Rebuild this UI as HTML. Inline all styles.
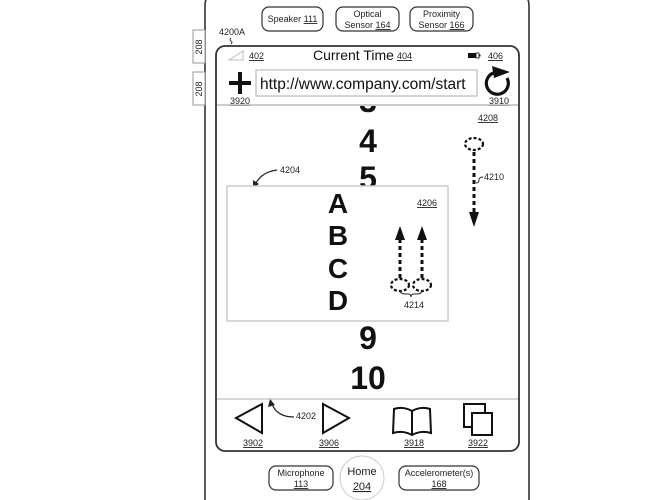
<!DOCTYPE html>
<html><head><meta charset="utf-8"><style>
html,body{margin:0;padding:0;background:#fff;width:662px;height:500px;overflow:hidden;}
svg{display:block;font-family:"Liberation Sans",Arial,sans-serif;}
.s{font-size:9px;fill:#222;}
.u{text-decoration:underline;}
.big{font-size:32px;font-weight:bold;fill:#111;}
.let{font-size:28px;font-weight:bold;fill:#111;}
</style></head><body>
<svg width="662" height="500" viewBox="0 0 662 500">
<defs><clipPath id="c"><rect x="217" y="106" width="301" height="292"/></clipPath></defs>
<!-- device -->
<path d="M205 500 L205 6 Q205 -8 219 -8 L515 -8 Q529 -8 529 6 L529 500" fill="none" stroke="#333" stroke-width="1.6"/>
<!-- side buttons -->
<rect x="193" y="30" width="12" height="33" fill="#fff" stroke="#999" stroke-width="1"/>
<text class="s" transform="translate(202,47) rotate(-90)" text-anchor="middle">208</text>
<rect x="193" y="72" width="12" height="33" fill="#fff" stroke="#999" stroke-width="1"/>
<text class="s" transform="translate(202,89) rotate(-90)" text-anchor="middle">208</text>
<!-- sensors -->
<rect x="262" y="7" width="61" height="24" rx="7" fill="#fff" stroke="#333" stroke-width="1.2"/>
<text class="s" x="292.5" y="22" text-anchor="middle">Speaker <tspan class="u">111</tspan></text>
<rect x="336" y="7" width="63" height="24" rx="7" fill="#fff" stroke="#333" stroke-width="1.2"/>
<text class="s" x="367.5" y="17" text-anchor="middle">Optical</text>
<text class="s" x="367.5" y="28" text-anchor="middle">Sensor <tspan class="u">164</tspan></text>
<rect x="410" y="7" width="63" height="24" rx="7" fill="#fff" stroke="#333" stroke-width="1.2"/>
<text class="s" x="441.5" y="17" text-anchor="middle">Proximity</text>
<text class="s" x="441.5" y="28" text-anchor="middle">Sensor <tspan class="u">166</tspan></text>
<text class="s" x="219" y="35">4200A</text>
<path d="M231 38 q-2 2 0 3 q2 1 0 3" fill="none" stroke="#222" stroke-width="0.9"/>
<!-- screen -->
<rect x="216" y="46" width="303" height="405" rx="9" fill="#fff" stroke="#333" stroke-width="1.8"/>
<!-- status -->
<polygon points="229,60 243,60 243,51" fill="none" stroke="#bbb" stroke-width="1"/>
<text class="s u" x="249" y="59">402</text>
<text x="313" y="60" style="font-size:14px;fill:#111">Current Time</text>
<text class="s u" x="397" y="59">404</text>
<rect x="468" y="53" width="8" height="5" fill="#111"/>
<rect x="476" y="53" width="3" height="5" fill="none" stroke="#111" stroke-width="0.8"/>
<rect x="479" y="54.5" width="1.5" height="2" fill="#111"/>
<text class="s u" x="488" y="59">406</text>
<!-- url -->
<rect x="256" y="70" width="221" height="26" fill="#fff" stroke="#bbb" stroke-width="1.2"/>
<text x="260" y="89" style="font-size:15.5px;fill:#111">http://www.company.com/start</text>
<rect x="229" y="81" width="22" height="4" fill="#111"/>
<rect x="238" y="72" width="4" height="22" fill="#111"/>
<text class="s u" x="230" y="104">3920</text>
<path d="M507 78 A11 11 0 1 1 495 72.5" fill="none" stroke="#111" stroke-width="3.2"/>
<polygon points="492,66 510,72 494,78" fill="#111"/>
<text class="s u" x="489" y="104">3910</text>
<line x1="217" y1="105" x2="518" y2="105" stroke="#bbb" stroke-width="1.6"/>
<!-- scroll content -->
<g clip-path="url(#c)">
<text class="big" x="368" y="112" text-anchor="middle">3</text>
<text class="big" x="368" y="152" text-anchor="middle">4</text>
<text class="big" x="368" y="189" text-anchor="middle">5</text>
<text class="big" x="368" y="349" text-anchor="middle">9</text>
<text class="big" x="368" y="389" text-anchor="middle">10</text>
</g>
<!-- 4204 -->
<text class="s" x="280" y="173">4204</text>
<path d="M277 170 Q262 172 256 183" fill="none" stroke="#222" stroke-width="1.2"/>
<polygon points="253,188 253,180 259,184" fill="#222"/>
<!-- box -->
<rect x="227" y="186" width="221" height="135" fill="#fff" stroke="#ccc" stroke-width="1.5"/>
<text class="let" x="338" y="213" text-anchor="middle">A</text>
<text class="let" x="338" y="245" text-anchor="middle">B</text>
<text class="let" x="338" y="278" text-anchor="middle">C</text>
<text class="let" x="338" y="310" text-anchor="middle">D</text>
<text class="s u" x="417" y="206">4206</text>
<g fill="none" stroke="#111" stroke-width="3">
<line x1="400" y1="278" x2="400" y2="238" stroke-dasharray="4 3"/>
<line x1="422" y1="278" x2="422" y2="238" stroke-dasharray="4 3"/>
</g>
<polygon points="400,226 395,240 405,240" fill="#111"/>
<polygon points="422,226 417,240 427,240" fill="#111"/>
<ellipse cx="400" cy="285" rx="9" ry="6" fill="none" stroke="#111" stroke-width="2.2" stroke-dasharray="3 2"/>
<ellipse cx="422" cy="285" rx="9" ry="6" fill="none" stroke="#111" stroke-width="2.2" stroke-dasharray="3 2"/>
<path d="M400 290 Q400 294 405 294 L408 294 Q411 294 411 297 Q411 294 414 294 L417 294 Q422 294 422 290" fill="none" stroke="#222" stroke-width="1"/>
<text class="s" x="404" y="308">4214</text>
<!-- 4208 -->
<text class="s u" x="478" y="121">4208</text>
<ellipse cx="474" cy="144" rx="9" ry="6" fill="none" stroke="#111" stroke-width="2.2" stroke-dasharray="3 2"/>
<line x1="474" y1="152" x2="474" y2="214" stroke="#111" stroke-width="3" stroke-dasharray="4 3"/>
<polygon points="474,227 469,212 479,212" fill="#111"/>
<text class="s" x="484" y="180">4210</text>
<path d="M483 177 q-4 0 -4 3 q0 3 -3 3" fill="none" stroke="#222" stroke-width="0.9"/>
<!-- toolbar -->
<line x1="217" y1="399" x2="518" y2="399" stroke="#ccc" stroke-width="1.5"/>
<polygon points="236,418 262,404 262,433" fill="none" stroke="#111" stroke-width="2"/>
<polygon points="323,404 349,418 323,433" fill="none" stroke="#111" stroke-width="2"/>
<text class="s u" x="253" y="446" text-anchor="middle">3902</text>
<text class="s u" x="329" y="446" text-anchor="middle">3906</text>
<text class="s" x="296" y="419">4202</text>
<path d="M294 417 Q277 417 272 404" fill="none" stroke="#222" stroke-width="1.2"/>
<polygon points="270,399 268,407 275,405" fill="#222"/>
<path d="M412 411 Q403 406 394 409 L393 433 Q403 430 412 435 Q421 430 431 433 L430 409 Q421 406 412 411 Z M412 411 L412 435" fill="none" stroke="#111" stroke-width="2"/>
<text class="s u" x="414" y="446" text-anchor="middle">3918</text>
<rect x="464" y="404" width="21" height="23" fill="#fff" stroke="#111" stroke-width="2"/>
<rect x="472" y="413" width="20" height="22" fill="#fff" stroke="#111" stroke-width="2"/>
<text class="s u" x="478" y="446" text-anchor="middle">3922</text>
<!-- bottom -->
<rect x="269" y="466" width="64" height="24" rx="7" fill="#fff" stroke="#333" stroke-width="1.2"/>
<text class="s" x="301" y="476" text-anchor="middle">Microphone</text>
<text class="s u" x="301" y="487" text-anchor="middle">113</text>
<circle cx="362" cy="478" r="22" fill="#fff" stroke="#ccc" stroke-width="1"/>
<text x="362" y="475" text-anchor="middle" style="font-size:11px;fill:#222">Home</text>
<text x="362" y="490" text-anchor="middle" class="u" style="font-size:11px;fill:#222">204</text>
<rect x="399" y="466" width="80" height="24" rx="7" fill="#fff" stroke="#333" stroke-width="1.2"/>
<text class="s" x="439" y="476" text-anchor="middle">Accelerometer(s)</text>
<text class="s u" x="439" y="487" text-anchor="middle">168</text>
</svg>
</body></html>
